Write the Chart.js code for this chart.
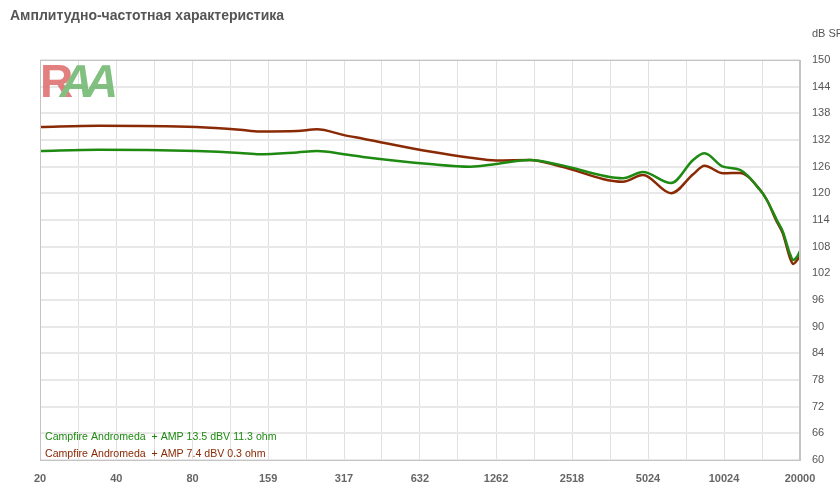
<!DOCTYPE html>
<html>
<head>
<meta charset="utf-8">
<script src="https://cdn.jsdelivr.net/npm/chart.js@4/dist/chart.umd.min.js"></script>
<style>
  body { margin: 0; background: #fff; font-family: "Liberation Sans", Arial, sans-serif; }
  #wrap { position: relative; width: 840px; height: 500px; }
  #title { position: absolute; left: 10px; top: 7px; font-size: 14px; font-weight: bold; color: #555; }
  #unit { position: absolute; left: 812px; top: 27px; font-size: 11px; color: #555; white-space: nowrap; overflow: hidden; width: 28px; }
  #logo { position: absolute; left: 40px; top: 58px; font-weight: bold; font-size: 46px; line-height: 46px; opacity: 0.85; }
  #logo .r { color: #dd6a6a; }
  #logo .a { color: #6cb56c; display: inline-block; margin-left: -12px; letter-spacing: -8px; transform: skewX(-12deg); }
</style>
</head>
<body>
<div id="wrap">
  <canvas id="chart" width="840" height="500"></canvas>
  <div id="title">Амплитудно-частотная характеристика</div>
  <div id="unit">dB SPL</div>
  <div id="logo"><span class="r">R</span><span class="a">AA</span></div>
</div>
<script>
const xTickLabels = ['20', '40', '80', '159', '317', '632', '1262', '2518', '5024', '10024', '20000']
const yMin = 60
const yMax = 150
const yStep = 6

const freqs = [20, 34, 83, 123, 147, 207, 248, 317, 377, 692, 1000, 1262, 1718, 2258, 4000, 4800, 6200, 7570, 8400, 9930, 11600, 13900, 14800, 16200, 17100, 18250, 18800, 19500, 20000]
const greenDb = [129.5, 129.8, 129.5, 129.1, 128.8, 129.2, 129.5, 128.8, 128.2, 126.6, 126.0, 126.6, 127.5, 126.4, 123.4, 124.8, 122.3, 127.5, 129.0, 126.0, 125.3, 120.8, 118.5, 114.0, 111.4, 106.4, 105.0, 105.8, 107.0]
const brownDb = [134.9, 135.2, 134.9, 134.3, 133.9, 134.0, 134.4, 133.1, 132.3, 129.4, 128.0, 127.4, 127.5, 126.1, 122.6, 124.1, 120.0, 124.3, 126.2, 124.5, 124.6, 120.8, 118.5, 113.6, 111.0, 105.5, 104.1, 105.0, 105.9]

const seriesLabels = ['Campfire Andromeda  + AMP 13.5 dBV 11.3 ohm', 'Campfire Andromeda  + AMP 7.4 dBV 0.3 ohm']
const seriesColors = ['#1e8a12', '#8a2a05']

function points(ys) {
  return freqs.map((f, i) => ({ x: f, y: ys[i] }))
}

// major ticks from labels, minor gridlines halfway (geometric) between
const tickValues = []
xTickLabels.forEach((l, i) => {
  const v = Number(l)
  tickValues.push(v)
  if (i < xTickLabels.length - 1) tickValues.push(Math.sqrt(v * Number(xTickLabels[i + 1])))
})

const frameAndLegend = {
  id: 'frameAndLegend',
  afterDraw(chart) {
    const { ctx, chartArea: a } = chart
    ctx.save()
    ctx.strokeStyle = '#c4c4c4'
    ctx.lineWidth = 1
    ctx.strokeRect(a.left + 0.5, a.top + 0.5, a.right - a.left - 1, a.bottom - a.top)
    ctx.font = '10.6px "Liberation Sans", Arial, sans-serif'
    ctx.textBaseline = 'middle'
    chart.data.datasets.forEach((ds, i) => {
      ctx.fillStyle = ds.borderColor
      ctx.fillText(ds.label, a.left + 5, a.bottom - 23 + i * 17)
    })
    ctx.restore()
  }
}

new Chart(document.getElementById('chart'), {
  type: 'line',
  data: {
    datasets: [
      { label: seriesLabels[0], data: points(greenDb), borderColor: seriesColors[0], borderWidth: 2.5, pointRadius: 0, cubicInterpolationMode: 'monotone' },
      { label: seriesLabels[1], data: points(brownDb), borderColor: seriesColors[1], borderWidth: 2.5, pointRadius: 0, cubicInterpolationMode: 'monotone' }
    ]
  },
  options: {
    responsive: false,
    animation: false,
    layout: { padding: { left: 40, top: 60, right: 0, bottom: 0 } },
    plugins: { legend: { display: false }, tooltip: { enabled: false } },
    scales: {
      x: {
        type: 'logarithmic',
        min: 20,
        max: 20000,
        afterBuildTicks(scale) { scale.ticks = tickValues.map(v => ({ value: v })) },
        afterFit(scale) { scale.height = 40 },
        grid: { color: '#e0e0e0', drawTicks: false },
        border: { color: '#c4c4c4' },
        ticks: {
          autoSkip: false,
          maxRotation: 0,
          padding: 12,
          color: '#666',
          font: { size: 11, weight: 'bold', family: '"Liberation Sans", Arial, sans-serif' },
          callback: (v, i) => (i % 2 === 0 ? xTickLabels[i / 2] : '')
        }
      },
      y: {
        position: 'right',
        min: yMin,
        max: yMax,
        afterFit(scale) { scale.width = 40 },
        grid: { color: '#e8e8e8', lineWidth: 2, drawTicks: false },
        border: { color: '#c4c4c4' },
        ticks: {
          stepSize: yStep,
          padding: 12,
          color: '#555',
          font: { size: 11, family: '"Liberation Sans", Arial, sans-serif' }
        }
      }
    }
  },
  plugins: [frameAndLegend]
})
</script>
</body>
</html>
